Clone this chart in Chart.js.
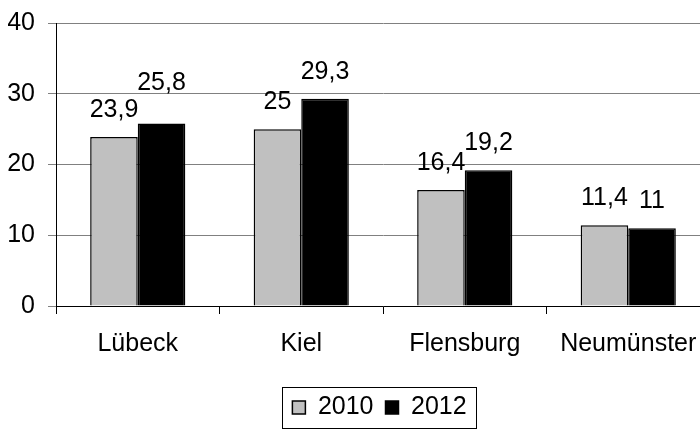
<!DOCTYPE html>
<html>
<head>
<meta charset="utf-8">
<script src="https://cdn.jsdelivr.net/npm/chart.js@4"></script>
<style>
html, body { margin: 0; padding: 0; background: #fff; overflow: hidden; }
#wrap { width: 759px; height: 430px; }
</style>
</head>
<body>
<div id="wrap"><canvas id="chart" width="759" height="430"></canvas></div>
<script>
const cities = ['Lübeck', 'Kiel', 'Flensburg', 'Neumünster'];
const years = ['2010', '2012'];
const values2010 = [23.9, 25, 16.4, 11.4];
const values2012 = [25.8, 29.3, 19.2, 11];
const yTicks = [0, 10, 20, 30, 40];

const family = '"Liberation Sans", Arial, sans-serif';
Chart.defaults.font.family = family;
Chart.defaults.font.size = 25;
Chart.defaults.color = '#000';

const fmt = v => String(v).replace('.', ',');

// value labels above the bars, second label moved up when it would collide
const valueLabels = {
    id: 'valueLabels',
    afterDatasetsDraw(chart) {
        const ctx = chart.ctx;
        ctx.save();
        ctx.font = '25px ' + family;
        ctx.fillStyle = '#000';
        ctx.textAlign = 'center';
        ctx.textBaseline = 'alphabetic';
        const placed = [];
        chart.data.datasets.forEach((ds, i) => {
            chart.getDatasetMeta(i).data.forEach((bar, j) => {
                const text = fmt(ds.data[j]);
                const w = ctx.measureText(text).width;
                let y = bar.y - 20;
                const hit = placed.find(p => p.j === j &&
                    Math.abs(p.x - bar.x) < (p.w + w) / 2 + 4 &&
                    Math.abs(p.y - y) < 17);
                if (hit) y = hit.y - 27;
                ctx.fillText(text, bar.x, y);
                placed.push({ j, x: bar.x, y, w });
            });
        });
        ctx.restore();
    }
};

// legend is centred on the whole canvas, not on the padded box
const legendShift = {
    id: 'legendShift',
    afterLayout(chart) {
        const lg = chart.legend;
        if (!lg) return;
        const d = (chart.width - (lg.left + lg.right)) / 2;
        lg.left += d;
        lg.right += d;
    }
};

// frame around the legend items
const legendFrame = {
    id: 'legendFrame',
    afterDraw(chart) {
        const boxes = chart.legend && chart.legend.legendHitBoxes;
        if (!boxes || !boxes.length) return;
        const left = Math.min(...boxes.map(b => b.left)) - 10;
        const right = Math.max(...boxes.map(b => b.left + b.width)) + 10;
        const top = Math.min(...boxes.map(b => b.top)) - 8;
        const bottom = Math.max(...boxes.map(b => b.top + b.height)) + 8;
        const ctx = chart.ctx;
        ctx.save();
        ctx.strokeStyle = '#000';
        ctx.lineWidth = 1;
        ctx.strokeRect(Math.round(left) + 0.5, Math.round(top) + 0.5,
            Math.round(right - left), Math.round(bottom - top));
        ctx.restore();
    }
};

new Chart(document.getElementById('chart'), {
    type: 'bar',
    data: {
        labels: cities,
        datasets: [{
            label: years[0],
            data: values2010,
            backgroundColor: '#c0c0c0',
            borderColor: '#000',
            borderWidth: 1.5,
            categoryPercentage: 0.582,
            barPercentage: 1
        }, {
            label: years[1],
            data: values2012,
            backgroundColor: '#000',
            borderColor: '#000',
            borderWidth: 1.5,
            categoryPercentage: 0.582,
            barPercentage: 1
        }]
    },
    options: {
        responsive: false,
        animation: false,
        layout: { padding: { top: 1, left: 8, right: 49, bottom: 0 } },
        plugins: {
            tooltip: { enabled: false },
            legend: {
                position: 'bottom',
                labels: {
                    boxWidth: 13,
                    boxHeight: 13,
                    padding: 12,
                    color: '#000',
                    font: { size: 25 }
                }
            }
        },
        scales: {
            x: {
                grid: {
                    display: true,
                    drawOnChartArea: false,
                    offset: true,
                    tickLength: 8,
                    color: '#000'
                },
                border: { color: '#000', width: 1 },
                ticks: { padding: 15, color: '#000', font: { size: 25 } },
                afterFit(scale) { scale.height += 9; }
            },
            y: {
                min: 0,
                max: 40,
                afterBuildTicks(axis) { axis.ticks = yTicks.map(v => ({ value: v })); },
                afterFit(scale) { scale.width = 48; },
                grid: { color: '#808080', tickLength: 8 },
                border: { color: '#000', width: 1 },
                ticks: { padding: 13, color: '#000', font: { size: 25, lineHeight: 0.8 } }
            }
        }
    },
    plugins: [valueLabels, legendShift, legendFrame]
});
</script>
</body>
</html>
